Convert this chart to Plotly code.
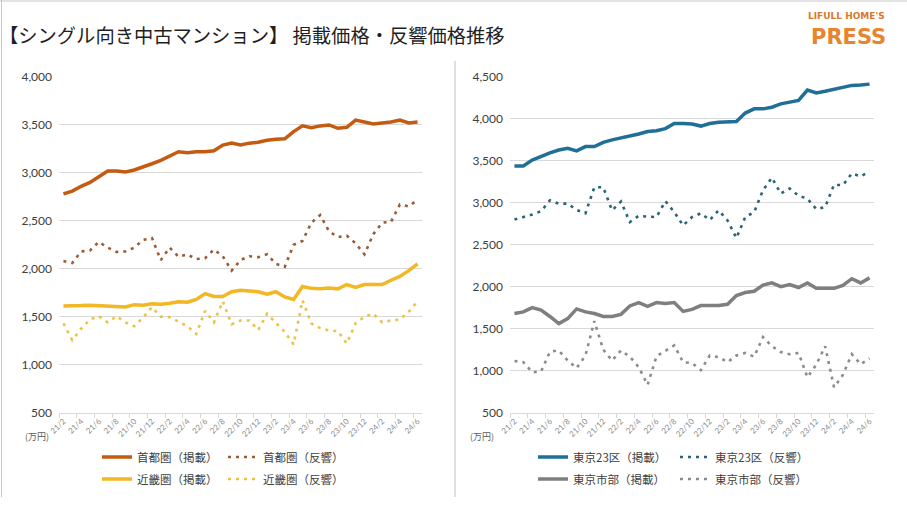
import plotly.graph_objects as go

months = ["21/2","21/3","21/4","21/5","21/6","21/7","21/8","21/9","21/10","21/11","21/12",
          "22/1","22/2","22/3","22/4","22/5","22/6","22/7","22/8","22/9","22/10","22/11","22/12",
          "23/1","23/2","23/3","23/4","23/5","23/6","23/7","23/8","23/9","23/10","23/11","23/12",
          "24/1","24/2","24/3","24/4","24/5","24/6"]

shuto_listing = [2780,2810,2860,2900,2960,3020,3020,3010,3030,3060,3095,3130,3175,3220,3210,3220,3220,3230,3290,3310,3290,
                 3310,3320,3340,3350,3355,3430,3490,3470,3490,3500,3465,3475,3550,3530,3510,3520,3530,3550,3520,3530]
shuto_response = [2080,2060,2180,2190,2280,2220,2175,2180,2220,2300,2320,2090,2220,2125,2150,2100,2110,2200,2130,1980,2090,
                  2130,2120,2150,2050,2020,2250,2290,2480,2560,2390,2330,2345,2265,2150,2360,2480,2490,2670,2650,2720]
kinki_listing = [1610,1610,1615,1620,1615,1610,1610,1600,1625,1620,1635,1630,1640,1655,1650,1680,1740,1710,1710,1760,1775,
                 1765,1760,1735,1760,1705,1680,1815,1795,1790,1800,1790,1835,1805,1835,1835,1835,1880,1920,1980,2050]
kinki_response = [1430,1255,1375,1470,1505,1440,1505,1440,1400,1490,1600,1500,1495,1450,1400,1320,1560,1440,1660,1420,1460,
                  1460,1360,1530,1440,1340,1210,1670,1430,1380,1355,1350,1220,1430,1500,1530,1440,1460,1470,1550,1660]
tokyo23_listing = [3440,3440,3510,3555,3595,3630,3650,3620,3670,3670,3720,3750,3770,3795,3820,3850,3860,3885,3945,3945,3940,
                   3915,3945,3960,3960,3970,4070,4120,4120,4140,4180,4195,4220,4345,4310,4330,4355,4380,4400,4405,4415]
tokyo23_response = [2800,2830,2860,2900,3030,2990,2990,2915,2875,3185,3185,2910,3015,2770,2845,2835,2830,3020,2890,2730,2830,
                    2875,2795,2910,2790,2580,2830,2890,3150,3300,3110,3170,3085,3050,2925,2950,3215,3210,3350,3315,3375]
tama_listing = [1680,1700,1750,1720,1645,1560,1620,1735,1700,1680,1645,1645,1670,1770,1810,1765,1810,1800,1810,1705,1730,
                1775,1775,1775,1790,1895,1930,1945,2020,2045,2000,2025,1990,2045,1980,1980,1980,2015,2095,2045,2105]
tama_response = [1115,1100,980,990,1225,1240,1120,1030,1180,1590,1250,1120,1240,1165,1040,830,1170,1240,1300,1100,1090,
                 1005,1180,1160,1100,1180,1210,1165,1400,1290,1220,1195,1210,920,1070,1290,800,950,1195,1075,1145]

left_yticks = [500, 1000, 1500, 2000, 2500, 3000, 3500, 4000]
right_yticks = [500, 1000, 1500, 2000, 2500, 3000, 3500, 4000, 4500]

W, H = 907, 510
xi = list(range(len(months)))
tickpos = xi[::2]
ticklab = months[::2]

CJK = "Noto Sans CJK JP"
fig = go.Figure()

series = [
    ("首都圏（掲載）", shuto_listing, "x", "y", "#C55A11", "solid", 3.5, "legend"),
    ("首都圏（反響）", shuto_response, "x", "y", "#9C5B34", "3px,5px", 2.6, "legend2"),
    ("近畿圏（掲載）", kinki_listing, "x", "y", "#F2B723", "solid", 3.5, "legend3"),
    ("近畿圏（反響）", kinki_response, "x", "y", "#EBC347", "3px,5px", 2.6, "legend4"),
    ("東京23区（掲載）", tokyo23_listing, "x2", "y2", "#1F6F97", "solid", 3.5, "legend5"),
    ("東京23区（反響）", tokyo23_response, "x2", "y2", "#2A6478", "3px,5px", 2.6, "legend6"),
    ("東京市部（掲載）", tama_listing, "x2", "y2", "#7F7F7F", "solid", 3.5, "legend7"),
    ("東京市部（反響）", tama_response, "x2", "y2", "#8C8C8C", "3px,5px", 2.6, "legend8"),
]
for name, vals, xa, ya, col, dash, lw, lg in series:
    fig.add_trace(go.Scatter(x=xi, y=vals, xaxis=xa, yaxis=ya, name=name, mode="lines",
                             line=dict(color=col, width=lw, dash=dash), legend=lg, showlegend=True))

def xaxis(domain, anchor):
    return dict(domain=domain, anchor=anchor, range=[-0.5, len(months) - 0.5], automargin=False,
                tickmode="array", tickvals=tickpos, ticktext=ticklab, tickangle=-45,
                tickfont=dict(family="Lato", size=8, color="#8C8C8C"),
                showgrid=False, zeroline=False, showline=True, linecolor="#D9D9D9", linewidth=1,
                ticks="", minor=dict(ticks="outside", tick0=-0.5, dtick=2, ticklen=4,
                                     tickcolor="#D9D9D9", showgrid=False))

def yaxis(domain, anchor, ticks, top):
    return dict(domain=domain, anchor=anchor, range=[500, top], tickmode="array", tickvals=ticks,
                automargin=False, tickformat=",d", tickfont=dict(family="Lato", size=12, color="#404040"),
                showgrid=True, gridcolor="#D9D9D9", gridwidth=1, zeroline=False, showline=False,
                ticks="", ticklabelstandoff=6)

ydom = [1 - 412.5 / H, 1 - 77 / H]
fig.update_layout(
    width=W, height=H, margin=dict(l=0, r=0, t=0, b=0, autoexpand=False),
    paper_bgcolor="white", plot_bgcolor="white", showlegend=True,
    xaxis=xaxis([59 / W, 422 / W], "y"),
    yaxis=yaxis(ydom, "x", left_yticks, 4000),
    xaxis2=xaxis([510 / W, 874 / W], "y2"),
    yaxis2=yaxis(ydom, "x2", right_yticks, 4500),
    hovermode=False,
)

legpos = {
    "legend": (97, 457), "legend2": (223, 457), "legend3": (97, 479), "legend4": (223, 479),
    "legend5": (533, 457), "legend6": (675, 457), "legend7": (533, 479), "legend8": (675, 479),
}
for lg, (px, py) in legpos.items():
    fig.update_layout({lg: dict(x=px / W, y=1 - py / H, xanchor="left", yanchor="middle",
                                orientation="h", bgcolor="rgba(0,0,0,0)", visible=True,
                                font=dict(family=CJK, size=11.5, color="#404040"))})

annos = [
    dict(x=-3 / W, y=1 - 35 / H, text="【シングル向き中古マンション】 掲載価格・反響価格推移",
         font=dict(family=CJK, size=19.3, color="#1F1F1F"), xanchor="left", yanchor="middle"),
    dict(x=887 / W, y=1 - 23 / H, text="LIFULL HOME'S",
         font=dict(family="DejaVu Sans", size=9, color="#D9782D", weight="bold"),
         xanchor="right", yanchor="bottom"),
    dict(x=888 / W, y=1 - 23 / H, text="PRESS",
         font=dict(family="DejaVu Sans", size=21, color="#E8832E", weight="bold"),
         xanchor="right", yanchor="top"),
    dict(x=51 / W, y=1 - 436 / H, text="(万円)",
         font=dict(family=CJK, size=9, color="#595959"), xanchor="right", yanchor="middle"),
    dict(x=496 / W, y=1 - 436 / H, text="(万円)",
         font=dict(family=CJK, size=9, color="#595959"), xanchor="right", yanchor="middle"),
]
for a in annos:
    a.update(xref="paper", yref="paper", showarrow=False)
fig.update_layout(annotations=annos)

fig.update_layout(shapes=[
    dict(type="line", xref="paper", yref="paper", x0=455 / W, x1=455 / W, y0=1 - 497 / H, y1=1 - 61 / H,
         line=dict(color="#BFBFBF", width=1)),
    dict(type="line", xref="paper", yref="paper", x0=0, x1=1, y0=1 - 1 / H, y1=1 - 1 / H,
         line=dict(color="#C8C8C8", width=1)),
    dict(type="line", xref="paper", yref="paper", x0=1.5 / W, x1=1.5 / W, y0=1 - 497 / H, y1=1,
         line=dict(color="#C8C8C8", width=1)),
])

fig.write_html("out.html")
